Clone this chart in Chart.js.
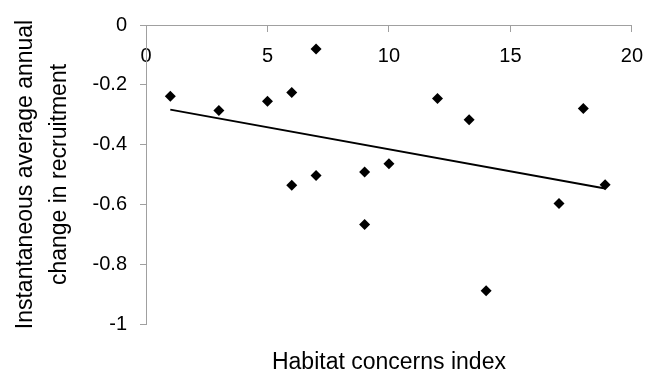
<!DOCTYPE html>
<html>
<head>
<meta charset="utf-8">
<script src="https://cdn.jsdelivr.net/npm/chart.js@4.4.1/dist/chart.umd.min.js"></script>
<style>
  html, body { margin: 0; padding: 0; background: #fff; }
  #wrap { width: 656px; height: 374px; }
</style>
</head>
<body>
<div id="wrap"><canvas id="chart" width="656" height="374"></canvas></div>
<script>
// habitat concerns index (x) vs change in recruitment (y)
var habitatIndex = [1, 3, 5, 6, 7, 6, 7, 9, 9, 10, 12, 13.3, 18, 18.9, 17, 14];
var recruitChange = [-0.238, -0.286, -0.255, -0.226, -0.080, -0.536, -0.503, -0.492,
                     -0.667, -0.464, -0.246, -0.317, -0.279, -0.534, -0.597, -0.889];

// linear trend line, end points as drawn
var trendX = [1, 18.9];
var trendY = [-0.283, -0.547];

var xTicks = [0, 5, 10, 15, 20];
var yTickLabels = ['0', '-0.2', '-0.4', '-0.6', '-0.8', '-1'];

var xTitle = 'Habitat concerns index';
var yTitle = ['Instantaneous average annual', 'change in recruitment'];

Chart.defaults.font.family = "'Liberation Sans', Arial, sans-serif";
Chart.defaults.color = '#000';

var points = habitatIndex.map(function (x, i) { return { x: x, y: recruitChange[i] }; });
var trend = trendX.map(function (x, i) { return { x: x, y: trendY[i] }; });

var axisGray = '#a0a0a0';

new Chart(document.getElementById('chart'), {
    type: 'scatter',
    data: {
        datasets: [{
            data: points,
            pointStyle: 'rectRot',
            pointRadius: 5.5,
            pointHoverRadius: 5.5,
            backgroundColor: '#000',
            borderColor: '#000',
            borderWidth: 0
        }, {
            data: trend,
            showLine: true,
            pointRadius: 0,
            borderColor: '#000',
            borderWidth: 2
        }]
    },
    options: {
        responsive: false,
        animation: false,
        layout: { padding: { top: 19, right: 22, bottom: 0, left: 0 } },
        plugins: {
            legend: { display: false },
            tooltip: { enabled: false },
            title: {
                display: true,
                text: xTitle,
                position: 'bottom',
                fullSize: false,
                align: 'center',
                color: '#000',
                font: { size: 23, weight: 'normal', lineHeight: 1 },
                padding: { top: 27, bottom: 0 }
            }
        },
        scales: {
            x: {
                type: 'linear',
                position: { y: 0 },
                min: 0,
                max: 20,
                afterBuildTicks: function (scale) {
                    scale.ticks = xTicks.map(function (v) { return { value: v }; });
                },
                ticks: {
                    font: { size: 20 },
                    padding: 13,
                    maxRotation: 0,
                    callback: function (v) { return String(v); }
                },
                grid: {
                    drawOnChartArea: false,
                    drawTicks: true,
                    tickLength: 6,
                    color: axisGray
                },
                border: { display: true, color: axisGray, width: 1 }
            },
            y: {
                type: 'linear',
                position: 'left',
                min: -1,
                max: 0,
                ticks: {
                    stepSize: 0.2,
                    font: { size: 20 },
                    padding: 13,
                    callback: function (v) {
                        return yTickLabels[Math.round(-v * 5)];
                    }
                },
                grid: {
                    drawOnChartArea: false,
                    drawTicks: true,
                    tickLength: 6,
                    color: axisGray
                },
                border: { display: true, color: axisGray, width: 1 },
                title: {
                    display: true,
                    text: yTitle,
                    color: '#000',
                    font: { size: 23, lineHeight: 1.478 },
                    padding: { top: 9, bottom: 0 }
                },
                afterFit: function (scale) { scale.width = 146; }
            }
        }
    }
});
</script>
</body>
</html>
